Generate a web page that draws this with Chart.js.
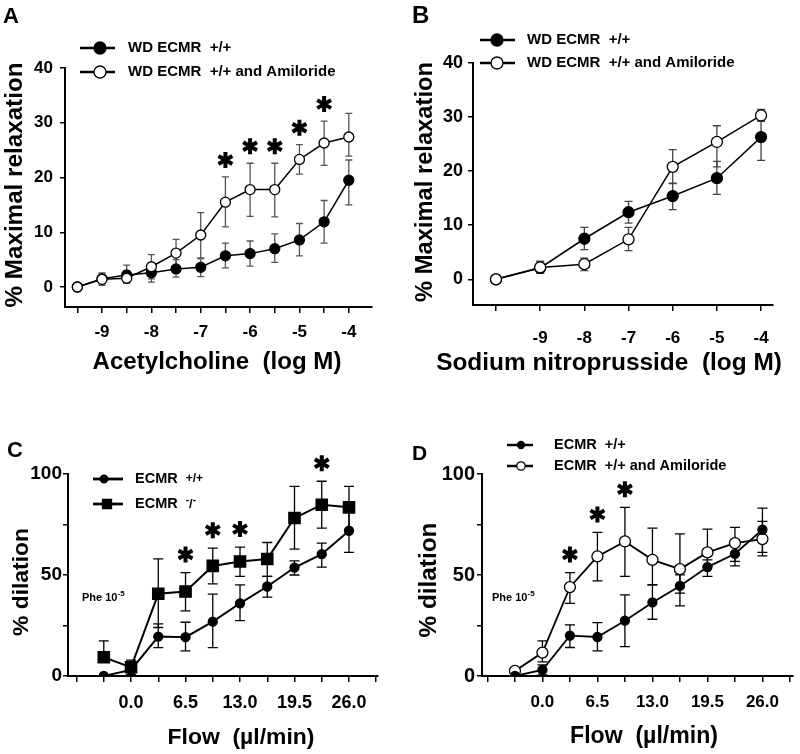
<!DOCTYPE html>
<html>
<head>
<meta charset="utf-8">
<script src="https://cdn.jsdelivr.net/npm/chart.js@4.4.1/dist/chart.umd.min.js"></script>
<style>
body { margin: 0; background: #fff; }
#wrap { position: relative; width: 800px; height: 754px; }
canvas { position: absolute; }
</style>
</head>
<body>
<div id="wrap">
  <canvas id="cA" width="400" height="377" style="left:0;top:0;width:400px;height:377px"></canvas>
  <canvas id="cB" width="400" height="377" style="left:400px;top:0;width:400px;height:377px"></canvas>
  <canvas id="cC" width="400" height="377" style="left:0;top:377px;width:400px;height:377px"></canvas>
  <canvas id="cD" width="400" height="377" style="left:400px;top:377px;width:400px;height:377px"></canvas>
</div>
<script>
const FONT = '"Liberation Sans", Arial, Helvetica, sans-serif';

// A: acetylcholine dose response
const achDose = [-9.5, -9, -8.5, -8, -7.5, -7, -6.5, -6, -5.5, -5, -4.5, -4];
const achWd   = [0, 1.5, 2.2, 2.6, 3.3, 3.6, 5.7, 6.1, 7.0, 8.6, 11.9, 19.5];
const achWdHi = [null, 2.6, 4.0, 4.4, 5.0, 5.3, 8.0, 8.4, 9.7, 11.6, 15.8, 23.2];
const achWdLo = [null, 0.3, 0.7, 0.9, 1.8, 1.9, 3.5, 3.8, 4.5, 5.7, 8.0, 15.0];
const achAmi   = [0, 1.4, 1.6, 3.7, 6.2, 9.5, 15.5, 17.8, 17.8, 23.3, 26.3, 27.4];
const achAmiHi = [null, 2.4, 3.0, 5.9, 8.7, 13.6, 20.1, 22.6, 22.6, 26.0, 30.3, 31.7];
const achAmiLo = [null, 0.6, 0.8, 1.5, 3.7, 5.2, 11.0, 12.9, 12.8, 20.6, 22.2, 23.9];
const achTicks = [-9.5, -9, -8.5, -8, -7.5, -7, -6.5, -6, -5.5, -5, -4.5, -4];
const achLabels = [-9, -8, -7, -6, -5, -4];
const achStars = [-6.5, -6, -5.5, -5, -4.5];

// B: sodium nitroprusside dose response
const snpDose = [-10, -9, -8, -7, -6, -5, -4];
const snpWd   = [0, 2.1, 7.5, 12.4, 15.4, 18.7, 26.3];
const snpWdHi = [null, 3.3, 9.6, 14.4, 17.8, 21.8, 29.3];
const snpWdLo = [null, 1.1, 5.5, 10.4, 12.9, 15.7, 22.0];
const snpAmi   = [0, 2.2, 2.8, 7.4, 20.8, 25.4, 30.3];
const snpAmiHi = [null, 3.3, 3.9, 9.6, 24.0, 28.4, 31.4];
const snpAmiLo = [null, 1.1, 1.6, 5.3, 17.7, 20.8, 29.2];
const snpTicks = [-10, -9, -8, -7, -6, -5, -4];
const snpLabels = [-9, -8, -7, -6, -5, -4];

const relaxTicks = [0, 10, 20, 30, 40];

// C and D: flow mediated dilation
const flow = [-3.25, 0, 3.25, 6.5, 9.75, 13, 16.25, 19.5, 22.75, 26];
const flowTicks = [-6.5, -3.25, 0, 3.25, 6.5, 9.75, 13, 16.25, 19.5, 22.75, 26, 29.25];
const flowLabels = [0, 6.5, 13, 19.5, 26];
const dilTicks = [0, 25, 50, 75, 100];
const dilLabels = [0, 50, 100];

const cWt   = [0, 3, 19.5, 19.2, 26.9, 36, 44.3, 53.7, 60.3, 71.9];
const cWtHi = [null, null, 25.8, 26.6, 40.5, 45.1, 49.3, 57.0, 65.8, 82];
const cWtLo = [null, null, 14.0, 12.4, 14.0, 27.4, 39.0, 50.0, 53.9, 61.2];
const cKo   = [9.3, 4.3, 40.7, 41.8, 54.5, 56.7, 57.9, 78.2, 84.8, 83.5];
const cKoHi = [17.4, 7.9, 58, 51.2, 63.3, 63.8, 66.1, 93.9, 96.4, 93.9];
const cKoLo = [null, 0.7, 24, 32.2, 45.6, 49.3, 49.3, 62.8, 73.2, 72];
const cStars = [6.5, 9.75, 13, 22.75];

const dWt   = [0, 3, 20, 19.3, 27.4, 36.4, 44.6, 53.9, 60.5, 72.4];
const dWtHi = [null, 5.5, 25.3, 26.4, 40.2, 45.1, 50.1, 57.5, 65, 76.5];
const dWtLo = [null, 0.5, 14.1, 12.4, 14.5, 28.1, 34.7, 49.3, 54.5, 61.2];
const dAmi   = [2.5, 11.6, 44, 59.2, 66.6, 57.5, 52.9, 61.2, 65.8, 67.8];
const dAmiHi = [null, 17.4, 51.2, 71.1, 83.5, 73.2, 70.4, 72.7, 73.6, 83.1];
const dAmiLo = [null, 7, 36, 47.1, 49.3, 45.1, 41, 54.2, 56.7, 59.5];
const dStars = [3.25, 6.5, 9.75];

function pts(xs, ys) {
    return xs.map((x, i) => ({ x: x, y: ys[i] }));
}

function series(xs, ys, hi, lo, o) {
    return Object.assign({
        data: pts(xs, ys),
        errHi: hi,
        errLo: lo,
        borderColor: '#000',
        borderWidth: 1.5,
        tension: 0,
        fill: false,
        pointStyle: 'circle',
        pointRadius: 5,
        pointBorderWidth: 1.3,
        pointBorderColor: '#000',
        pointBackgroundColor: '#000',
        errColor: '#000',
        capW: 4
    }, o);
}

const errorBars = {
    id: 'errorBars',
    beforeDatasetsDraw(chart) {
        const ctx = chart.ctx;
        const xs = chart.scales.x, ys = chart.scales.y;
        chart.data.datasets.forEach(ds => {
            if (!ds.errHi) return;
            ctx.save();
            ctx.strokeStyle = ds.errColor;
            ctx.lineWidth = 1.3;
            ds.data.forEach((p, i) => {
                const px = xs.getPixelForValue(p.x);
                const py = ys.getPixelForValue(p.y);
                ctx.beginPath();
                [ds.errHi[i], ds.errLo[i]].forEach(v => {
                    if (v == null) return;
                    const e = ys.getPixelForValue(v);
                    ctx.moveTo(px, py);
                    ctx.lineTo(px, e);
                    ctx.moveTo(px - ds.capW, e);
                    ctx.lineTo(px + ds.capW, e);
                });
                ctx.stroke();
            });
            ctx.restore();
        });
    }
};

function fitText(ctx, text, width) {
    ctx.font = 'bold 100px ' + FONT;
    return 100 * width / ctx.measureText(text).width;
}

function drawParts(ctx, parts, x, y) {
    ctx.textAlign = 'left';
    ctx.textBaseline = 'middle';
    parts.forEach(p => {
        ctx.font = 'bold ' + p.size + 'px ' + FONT;
        ctx.fillText(p.t, x, y + (p.dy || 0));
        x += ctx.measureText(p.t).width;
    });
}

function marker(ctx, style, x, y, r, fill) {
    ctx.beginPath();
    if (style === 'rect') ctx.rect(x - r, y - r, 2 * r, 2 * r);
    else ctx.arc(x, y, r, 0, Math.PI * 2);
    ctx.fillStyle = fill;
    ctx.fill();
    ctx.lineWidth = 1.3;
    ctx.strokeStyle = '#000';
    ctx.stroke();
}

function asterisk(ctx, x, y, r) {
    ctx.save();
    ctx.strokeStyle = '#000';
    ctx.lineWidth = 4;
    ctx.beginPath();
    for (let k = 0; k < 3; k++) {
        const a = Math.PI / 2 + k * Math.PI / 3;
        ctx.moveTo(x + r * Math.cos(a), y + r * Math.sin(a));
        ctx.lineTo(x - r * Math.cos(a), y - r * Math.sin(a));
    }
    ctx.stroke();
    ctx.restore();
}

function decor(p) {
    return {
        id: 'decor',
        afterDraw(chart) {
            const ctx = chart.ctx;
            ctx.save();
            ctx.fillStyle = '#000';

            // panel letter
            ctx.font = 'bold ' + p.letter.size + 'px ' + FONT;
            ctx.textAlign = 'left';
            ctx.textBaseline = 'alphabetic';
            ctx.fillText(p.letter.t, p.letter.x, p.letter.y);

            // axis titles
            let s = fitText(ctx, p.yTitle.t, p.yTitle.w);
            ctx.font = 'bold ' + s + 'px ' + FONT;
            ctx.textAlign = 'center';
            ctx.textBaseline = 'middle';
            ctx.save();
            ctx.translate(p.yTitle.x, p.yTitle.y);
            ctx.rotate(-Math.PI / 2);
            ctx.fillText(p.yTitle.t, 0, 0);
            ctx.restore();

            s = fitText(ctx, p.xTitle.t, p.xTitle.w);
            ctx.font = 'bold ' + s + 'px ' + FONT;
            ctx.textAlign = 'center';
            ctx.textBaseline = 'middle';
            ctx.fillText(p.xTitle.t, p.xTitle.x, p.xTitle.y);

            // legend
            p.legend.forEach(l => {
                ctx.beginPath();
                ctx.strokeStyle = '#000';
                ctx.lineWidth = l.lw;
                ctx.moveTo(l.x1, l.y);
                ctx.lineTo(l.x2, l.y);
                ctx.stroke();
                marker(ctx, l.style, l.mx, l.y, l.r, l.fill);
                ctx.fillStyle = '#000';
                drawParts(ctx, l.parts, l.tx, l.y);
            });

            // Phe label
            if (p.phe) {
                drawParts(ctx, [
                    { t: 'Phe 10', size: 11 },
                    { t: '-5', size: 8, dy: -4 }
                ], p.phe.x, p.phe.y);
            }

            // significance marks
            if (p.stars) {
                const xs = chart.scales.x, ys = chart.scales.y;
                p.stars.xs.forEach(v => {
                    const i = p.stars.dose.indexOf(v);
                    const px = xs.getPixelForValue(v);
                    const py = ys.getPixelForValue(p.stars.hi[i]) - p.stars.off;
                    asterisk(ctx, px, py, 8);
                });
            }
            ctx.restore();
        }
    };
}

function makeChart(id, p) {
    new Chart(document.getElementById(id), {
        type: 'line',
        data: { datasets: p.datasets },
        options: {
            responsive: false,
            animation: false,
            layout: { padding: p.pad },
            plugins: { legend: { display: false }, tooltip: { enabled: false } },
            scales: {
                x: {
                    type: 'linear',
                    min: p.xmin,
                    max: p.xmax,
                    afterBuildTicks: sc => { sc.ticks = p.xticks.map(v => ({ value: v })); },
                    afterFit: sc => { sc.height = p.xh; },
                    grid: { drawOnChartArea: false, drawTicks: true, tickLength: 6, color: '#000', lineWidth: 1.5 },
                    border: { color: '#000', width: 2 },
                    ticks: {
                        autoSkip: false,
                        maxRotation: 0,
                        padding: p.xpad,
                        color: '#000',
                        font: { family: FONT, size: p.xfs, weight: 'bold' },
                        callback: v => p.xlabels.includes(v) ? p.xfmt(v) : ''
                    }
                },
                y: {
                    min: p.ymin,
                    max: p.ymax,
                    afterBuildTicks: sc => { sc.ticks = p.yticks.map(v => ({ value: v })); },
                    afterFit: sc => { sc.width = p.yw; },
                    grid: { drawOnChartArea: false, drawTicks: true, tickLength: 5, color: '#000', lineWidth: 1.5 },
                    border: { color: '#000', width: 2 },
                    ticks: {
                        padding: p.ypad,
                        color: '#000',
                        font: { family: FONT, size: p.yfs, weight: 'bold' },
                        callback: v => p.ylabels.includes(v) ? String(v) : ''
                    }
                }
            }
        },
        plugins: [errorBars, decor(p)]
    });
}

// panel A
makeChart('cA', {
    datasets: [
        series(achDose, achAmi, achAmiHi, achAmiLo, { order: 0, pointBackgroundColor: '#fff', errColor: '#555', capW: 3.5 }),
        series(achDose, achWd, achWdHi, achWdLo, { order: 1, errColor: '#555', capW: 3.5 })
    ],
    pad: { left: 5, top: 68, right: 28, bottom: 25 },
    xmin: -9.75, xmax: -3.53, xticks: achTicks, xlabels: achLabels, xfmt: v => String(v),
    xh: 45, xpad: 9, xfs: 17,
    ymin: -3.65, ymax: 40, yticks: relaxTicks, ylabels: relaxTicks, yw: 60, ypad: 7, yfs: 17,
    letter: { t: 'A', x: 3, y: 23, size: 22 },
    yTitle: { t: '% Maximal relaxation', x: 15, y: 185, w: 245 },
    xTitle: { t: 'Acetylcholine  (log M)', x: 217, y: 362, w: 249 },
    legend: [
        { y: 48, x1: 80, x2: 115, mx: 100, tx: 128, lw: 2.5, style: 'circle', r: 6, fill: '#000',
          parts: [{ t: 'WD ECMR  +/+', size: 15 }] },
        { y: 72, x1: 80, x2: 115, mx: 100, tx: 128, lw: 2.5, style: 'circle', r: 6, fill: '#fff',
          parts: [{ t: 'WD ECMR  +/+ and Amiloride', size: 15 }] }
    ],
    stars: { xs: achStars, dose: achDose, hi: achAmiHi, off: 17 }
});

// panel B
makeChart('cB', {
    datasets: [
        series(snpDose, snpAmi, snpAmiHi, snpAmiLo, { order: 0, pointBackgroundColor: '#fff', pointRadius: 5.5, errColor: '#444', capW: 4 }),
        series(snpDose, snpWd, snpWdHi, snpWdLo, { order: 1, pointRadius: 5.5, errColor: '#444', capW: 4 })
    ],
    pad: { left: 13, top: 63, right: 27, bottom: 22 },
    xmin: -10.52, xmax: -3.73, xticks: snpTicks, xlabels: snpLabels, xfmt: v => String(v),
    xh: 50, xpad: 17, xfs: 17,
    ymin: -4.75, ymax: 40, yticks: relaxTicks, ylabels: relaxTicks, yw: 60, ypad: 5, yfs: 18,
    letter: { t: 'B', x: 12, y: 23, size: 24 },
    yTitle: { t: '% Maximal relaxation', x: 25, y: 182, w: 240 },
    xTitle: { t: 'Sodium nitroprusside  (log M)', x: 209, y: 363, w: 346 },
    legend: [
        { y: 40, x1: 80, x2: 115, mx: 97, tx: 127, lw: 2.5, style: 'circle', r: 6, fill: '#000',
          parts: [{ t: 'WD ECMR  +/+', size: 15 }] },
        { y: 63, x1: 80, x2: 115, mx: 97, tx: 127, lw: 2.5, style: 'circle', r: 6, fill: '#fff',
          parts: [{ t: 'WD ECMR  +/+ and Amiloride', size: 15 }] }
    ],
    stars: null
});

// panel C
makeChart('cC', {
    datasets: [
        series(flow, cKo, cKoHi, cKoLo, { order: 0, pointStyle: 'rect', pointRadius: 8, borderWidth: 2, capW: 5 }),
        series(flow, cWt, cWtHi, cWtLo, { order: 1, pointRadius: 4.5, borderWidth: 2, capW: 5 })
    ],
    pad: { left: 8, top: 97, right: 22, bottom: 28 },
    xmin: -7.52, xmax: 29.46, xticks: flowTicks, xlabels: flowLabels, xfmt: v => v.toFixed(1),
    xh: 50, xpad: 10, xfs: 18,
    ymin: 0, ymax: 100, yticks: dilTicks, ylabels: dilLabels, yw: 60, ypad: 1, yfs: 19,
    letter: { t: 'C', x: 7, y: 80, size: 22 },
    yTitle: { t: '% dilation', x: 22, y: 205, w: 108 },
    xTitle: { t: 'Flow  (µl/min)', x: 241, y: 361, w: 147 },
    legend: [
        { y: 102, x1: 93, x2: 123, mx: 104, tx: 135, lw: 2.8, style: 'circle', r: 3.8, fill: '#000',
          parts: [{ t: 'ECMR  ', size: 14.5 }, { t: '+/+', size: 12 }] },
        { y: 127, x1: 93, x2: 123, mx: 107, tx: 135, lw: 2.8, style: 'rect', r: 4.5, fill: '#000',
          parts: [{ t: 'ECMR  ', size: 14.5 }, { t: '-', size: 10, dy: -4 }, { t: '/', size: 13 }, { t: '-', size: 10, dy: -4 }] }
    ],
    phe: { x: 82, y: 221 },
    stars: { xs: cStars, dose: flow, hi: cKoHi, off: 18 }
});

// panel D
makeChart('cD', {
    datasets: [
        series(flow, dWt, dWtHi, dWtLo, { order: 0, pointRadius: 4.5, borderWidth: 1.8, capW: 5 }),
        series(flow, dAmi, dAmiHi, dAmiLo, { order: 1, pointBackgroundColor: '#fff', pointRadius: 5.5, borderWidth: 1.8, capW: 5 })
    ],
    pad: { left: 12, top: 97, right: 3, bottom: 28 },
    xmin: -7.14, xmax: 29.6, xticks: flowTicks, xlabels: flowLabels, xfmt: v => v.toFixed(1),
    xh: 50, xpad: 10, xfs: 17,
    ymin: 0, ymax: 100, yticks: dilTicks, ylabels: dilLabels, yw: 70, ypad: 2, yfs: 20,
    letter: { t: 'D', x: 12, y: 83, size: 21 },
    yTitle: { t: '% dilation', x: 29, y: 203, w: 115 },
    xTitle: { t: 'Flow  (µl/min)', x: 244, y: 360, w: 148 },
    legend: [
        { y: 68, x1: 107, x2: 133, mx: 121, tx: 154, lw: 2.5, style: 'circle', r: 3.5, fill: '#000',
          parts: [{ t: 'ECMR  +/+', size: 14.5 }] },
        { y: 89, x1: 107, x2: 133, mx: 121, tx: 154, lw: 2.5, style: 'circle', r: 4.2, fill: '#fff',
          parts: [{ t: 'ECMR  +/+ and Amiloride', size: 14.5 }] }
    ],
    phe: { x: 92, y: 221 },
    stars: { xs: dStars, dose: flow, hi: dAmiHi, off: 18 }
});
</script>
</body>
</html>
